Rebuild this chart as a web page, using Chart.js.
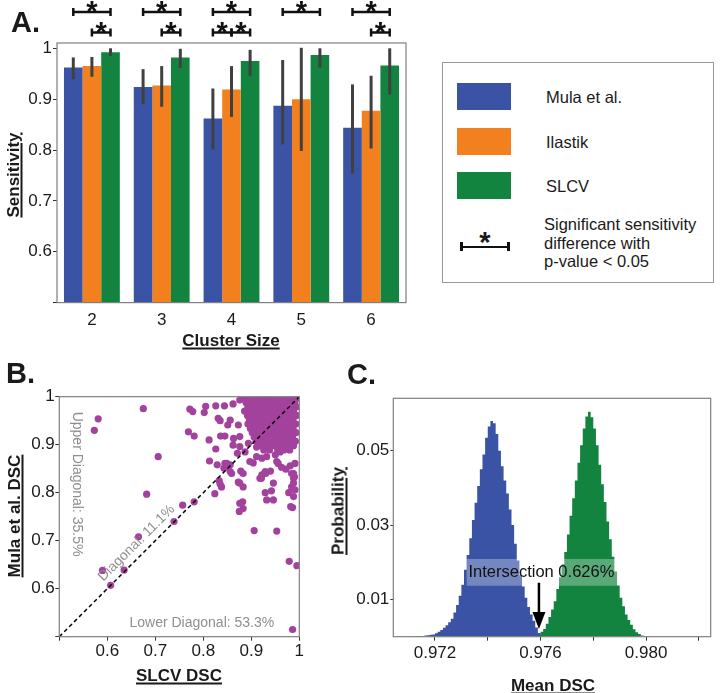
<!DOCTYPE html>
<html>
<head>
<meta charset="utf-8">
<script src="https://cdn.jsdelivr.net/npm/chart.js@4.4.1/dist/chart.umd.min.js"></script>
<style>
  body { margin: 0; background: #fff; font-family: "Liberation Sans", Arial, sans-serif; color: #1a1a1a; }
  #page { position: relative; width: 720px; height: 693px; overflow: hidden; }
  canvas { position: absolute; }
  .lbl { position: absolute; white-space: nowrap; line-height: 1; }
  .title { font-weight: bold; font-size: 17px; text-decoration: underline; text-decoration-thickness: 1.5px;
           text-underline-offset: 2px; transform: translate(-50%, -50%); }
  .rot { transform: translate(-50%, -50%) rotate(-90deg); }
  .panel { font-weight: bold; font-size: 29px; }
  .legtxt { font-size: 16.5px; }
  .swatch { position: absolute; width: 54px; height: 27px; }
</style>
</head>
<body>
<div id="page">
  <canvas id="chartA" width="420" height="360" style="left:0;top:0"></canvas>
  <canvas id="chartB" width="360" height="333" style="left:0;top:360px"></canvas>
  <canvas id="chartC" width="380" height="333" style="left:340px;top:360px"></canvas>

  <div class="lbl panel" style="left:11px;top:8px">A.</div>
  <div class="lbl panel" style="left:6px;top:359px">B.</div>
  <div class="lbl panel" style="left:347px;top:360px">C.</div>

  <div class="lbl title" style="left:231px;top:340px">Cluster Size</div>
  <div class="lbl title rot" style="left:13px;top:175px">Sensitivity</div>
  <div class="lbl title" style="left:179px;top:675px">SLCV DSC</div>
  <div class="lbl title rot" style="left:14px;top:516px">Mula et al. DSC</div>
  <div class="lbl title" style="left:553px;top:685px">Mean DSC</div>
  <div class="lbl title rot" style="left:338px;top:511px">Probability</div>

  <!-- legend of panel A -->
  <div style="position:absolute;left:442px;top:62px;width:270px;height:219px;border:1px solid #999"></div>
  <div class="swatch" style="left:457px;top:83px;background:#3a53a4"></div>
  <div class="swatch" style="left:457px;top:128px;background:#f3801f"></div>
  <div class="swatch" style="left:457px;top:172px;background:#13843f"></div>
  <div class="lbl legtxt" style="left:546px;top:89px">Mula et al.</div>
  <div class="lbl legtxt" style="left:546px;top:134px">Ilastik</div>
  <div class="lbl legtxt" style="left:546px;top:178px">SLCV</div>
  <div style="position:absolute;left:460px;top:245.5px;width:49px;height:2.5px;background:#111"></div>
  <div style="position:absolute;left:460px;top:242px;width:2.5px;height:9px;background:#111"></div>
  <div style="position:absolute;left:507px;top:242px;width:2.5px;height:9px;background:#111"></div>
  <div class="lbl" style="left:485px;top:228px;font-weight:bold;font-size:29px;transform:translateX(-50%)">*</div>
  <div class="lbl legtxt" style="left:544px;top:215px;line-height:18.5px">Significant sensitivity<br>difference with<br>p-value &lt; 0.05</div>
</div>

<script>
// ---------- panel A: sensitivity by cluster size ----------
const clusterSizes = ['2', '3', '4', '5', '6'];
const methods = ['Mula et al.', 'Ilastik', 'SLCV'];
const mulaSens = [0.962, 0.924, 0.862, 0.887, 0.844];
const ilastikSens = [0.965, 0.927, 0.919, 0.900, 0.877];
const slcvSens = [0.992, 0.982, 0.975, 0.987, 0.966];
const mulaCI = [[0.939, 0.982], [0.890, 0.959], [0.801, 0.921], [0.811, 0.977], [0.754, 0.929]];
const ilastikCI = [[0.944, 0.983], [0.885, 0.965], [0.865, 0.965], [0.798, 1.001], [0.803, 0.946]];
const slcvCI = [[0.985, 1.000], [0.961, 0.999], [0.946, 0.997], [0.962, 1.000], [0.909, 1.000]];
const sensTicks = [0.5, 0.6, 0.7, 0.8, 0.9, 1.0];
// [cluster index, method from, method to, row]
const sigPairs = [[0, 0, 2, 0], [0, 1, 2, 1], [1, 0, 2, 0], [1, 1, 2, 1], [2, 0, 2, 0],
                  [2, 0, 1, 1], [2, 1, 2, 1], [3, 0, 2, 0], [4, 0, 2, 0], [4, 1, 2, 1]];

// ---------- panel B: per-cell DSC, SLCV vs Mula et al. ----------
const dscTicks = [0.5, 0.6, 0.7, 0.8, 0.9, 1.0];
const diagonal = [[0.5, 0.5], [1, 1]];
const dscPairs = [
  [0.573, 0.930], [0.581, 0.954], [0.675, 0.975], [0.706, 0.875], [0.682, 0.797], [0.757, 0.774],
  [0.781, 0.781], [0.739, 0.740], [0.665, 0.708], [0.590, 0.638], [0.635, 0.639], [0.607, 0.607],
  [0.769, 0.927], [0.781, 0.918], [0.772, 0.974], [0.778, 0.969], [0.802, 0.967], [0.805, 0.980],
  [0.826, 0.981], [0.812, 0.910], [0.826, 0.891], [0.813, 0.866], [0.829, 0.858], [0.833, 0.825],
  [0.835, 0.818], [0.824, 0.798], [0.906, 0.721], [0.953, 0.720], [0.979, 0.657], [0.995, 0.648],
  [0.986, 0.515], [0.875, 0.761], [0.882, 0.781], [0.876, 0.820], [0.873, 0.822], [0.878, 0.845],
  [0.883, 0.840], [0.859, 0.840], [0.849, 0.861], [0.856, 0.858], [0.843, 0.851], [0.929, 0.800],
  [0.942, 0.804], [0.946, 0.820], [0.930, 0.840], [0.940, 0.845], [0.921, 0.830], [0.978, 0.800],
  [0.986, 0.769], [0.982, 0.771], [0.988, 0.820], [0.990, 0.833], [0.988, 0.840], [0.981, 0.856],
  [0.991, 0.861], [0.963, 0.853], [0.972, 0.849], [0.956, 0.861], [0.904, 0.862], [0.922, 0.872],
  [0.932, 0.875], [0.911, 0.875], [0.844, 0.981], [0.862, 0.985], [0.887, 0.995], [0.831, 0.955],
  [0.856, 0.951], [0.851, 0.941], [0.836, 0.918], [0.845, 0.918], [0.876, 0.917], [0.862, 0.899],
  [0.887, 0.885], [0.871, 0.882], [0.894, 0.903], [0.911, 0.895], [0.876, 0.993], [0.835, 0.950],
  [0.873, 0.941], [0.863, 0.913], [0.876, 0.896], [0.845, 0.861], [0.852, 0.854], [0.856, 0.844],
  [0.897, 0.865], [0.918, 0.830], [0.922, 0.837], [0.929, 0.844], [0.883, 0.812], [0.838, 0.812],
  [0.953, 0.865], [0.950, 0.879], [0.960, 0.885], [0.984, 0.840], [0.988, 0.830], [0.984, 0.812],
  [0.991, 0.806], [0.988, 0.792], [0.946, 0.785], [0.932, 0.785], [0.876, 0.778], [0.883, 0.767],
  // dense cluster near (1, 1)
  [0.893, 0.996], [0.905, 0.996], [0.915, 0.996], [0.925, 0.996], [0.935, 0.996], [0.945, 0.996],
  [0.955, 0.996], [0.965, 0.996], [0.975, 0.996], [0.985, 0.996], [0.994, 0.996],
  [0.889, 0.988], [0.899, 0.988], [0.910, 0.988], [0.920, 0.988], [0.930, 0.988], [0.940, 0.988],
  [0.950, 0.988], [0.960, 0.988], [0.970, 0.988], [0.980, 0.988], [0.990, 0.988],
  [0.893, 0.979], [0.904, 0.979], [0.914, 0.979], [0.925, 0.979], [0.935, 0.979], [0.945, 0.979],
  [0.955, 0.979], [0.965, 0.979], [0.975, 0.979], [0.985, 0.979], [0.995, 0.979],
  [0.886, 0.970], [0.897, 0.970], [0.908, 0.970], [0.918, 0.970], [0.928, 0.970], [0.938, 0.970],
  [0.948, 0.970], [0.958, 0.970], [0.968, 0.970], [0.978, 0.970], [0.988, 0.970],
  [0.892, 0.961], [0.902, 0.961], [0.913, 0.961], [0.923, 0.961], [0.933, 0.961], [0.943, 0.961],
  [0.953, 0.961], [0.963, 0.961], [0.973, 0.961], [0.983, 0.961], [0.994, 0.961],
  [0.896, 0.952], [0.907, 0.952], [0.917, 0.952], [0.927, 0.952], [0.937, 0.952], [0.947, 0.952],
  [0.957, 0.952], [0.967, 0.952], [0.977, 0.952], [0.987, 0.952],
  [0.893, 0.943], [0.902, 0.943], [0.912, 0.943], [0.922, 0.943], [0.932, 0.943], [0.942, 0.943],
  [0.952, 0.943], [0.962, 0.943], [0.972, 0.943], [0.982, 0.943], [0.993, 0.943],
  [0.898, 0.934], [0.907, 0.934], [0.917, 0.934], [0.927, 0.934], [0.937, 0.934], [0.947, 0.934],
  [0.957, 0.934], [0.967, 0.934], [0.977, 0.934], [0.987, 0.934],
  [0.902, 0.925], [0.912, 0.925], [0.922, 0.925], [0.932, 0.925], [0.942, 0.925], [0.952, 0.925],
  [0.962, 0.925], [0.972, 0.925], [0.982, 0.925], [0.993, 0.925],
  [0.906, 0.916], [0.916, 0.916], [0.926, 0.916], [0.936, 0.916], [0.946, 0.916], [0.956, 0.916],
  [0.966, 0.916], [0.976, 0.916], [0.986, 0.916],
  [0.910, 0.907], [0.921, 0.907], [0.931, 0.907], [0.941, 0.907], [0.951, 0.907], [0.961, 0.907],
  [0.971, 0.907], [0.981, 0.907], [0.992, 0.907],
  [0.917, 0.898], [0.927, 0.898], [0.937, 0.898], [0.948, 0.898], [0.958, 0.898], [0.968, 0.898],
  [0.978, 0.898], [0.988, 0.898],
  [0.926, 0.889], [0.938, 0.889], [0.955, 0.889], [0.968, 0.889], [0.980, 0.889]
];
const diagNotes = [
  { text: 'Upper Diagonal: 35.5%', x: 0.537, y: 0.818, angle: 90 },
  { text: 'Diagonal: 11.1%', x: 0.661, y: 0.695, angle: -45 },
  { text: 'Lower Diagonal: 53.3%', x: 0.797, y: 0.5285, angle: 0 }
];

// ---------- panel C: bootstrap distribution of mean DSC ----------
const meanDscBins = [
  0.97105, 0.97115, 0.97125, 0.97135, 0.97145, 0.97155, 0.97165, 0.97175, 0.97185, 0.97195,
  0.97205, 0.97215, 0.97225, 0.97235, 0.97245, 0.97255, 0.97265, 0.97275, 0.97285, 0.97295,
  0.97305, 0.97315, 0.97325, 0.97335, 0.97345, 0.97355, 0.97365, 0.97375, 0.97385, 0.97395,
  0.97405, 0.97415, 0.97425, 0.97435, 0.97445, 0.97455, 0.97465, 0.97475, 0.97485, 0.97495,
  0.97505, 0.97515, 0.97525, 0.97535, 0.97545, 0.97555, 0.97565, 0.97575, 0.97585, 0.97595,
  0.97605, 0.97615, 0.97625, 0.97635, 0.97645, 0.97655, 0.97665, 0.97675, 0.97685, 0.97695,
  0.97705, 0.97715, 0.97725, 0.97735, 0.97745, 0.97755, 0.97765, 0.97775, 0.97785, 0.97795,
  0.97805, 0.97815, 0.97825, 0.97835, 0.97845, 0.97855, 0.97865, 0.97875, 0.97885, 0.97895,
  0.97905, 0.97915, 0.97925, 0.97935, 0.97945, 0.97955, 0.97965, 0.97975, 0.97985, 0.97995
];
const mulaMeanHist = [
  0, 0.0001, 0.0001, 0.0001, 0.0002, 0.0002, 0.0003, 0.0004, 0.0005, 0.0006,
  0.0009, 0.0013, 0.0018, 0.0024, 0.0031, 0.0039, 0.0048, 0.0065, 0.0085, 0.0110,
  0.0140, 0.0180, 0.0220, 0.0265, 0.0314, 0.0360, 0.0405, 0.0450, 0.0490, 0.0535,
  0.0565, 0.0580, 0.0574, 0.0545, 0.0500, 0.0458, 0.0420, 0.0385, 0.0342, 0.0300,
  0.0250, 0.0205, 0.0165, 0.0135, 0.0105, 0.0080, 0.0060, 0.0043, 0.0025, 0.0010,
  0.0002, 0, 0, 0, 0, 0, 0, 0, 0, 0,
  0, 0, 0, 0, 0, 0, 0, 0, 0, 0,
  0, 0, 0, 0, 0, 0, 0, 0, 0, 0,
  0, 0, 0, 0, 0, 0, 0, 0, 0, 0
];
const slcvMeanHist = [
  0, 0, 0, 0, 0, 0, 0, 0, 0, 0,
  0, 0, 0, 0, 0, 0, 0, 0, 0, 0,
  0, 0, 0, 0, 0, 0, 0, 0, 0, 0,
  0, 0, 0, 0, 0, 0, 0, 0, 0, 0,
  0, 0, 0, 0, 0, 0, 0, 0, 0.0001, 0.0005,
  0.0013, 0.0021, 0.0035, 0.0053, 0.0073, 0.0095, 0.0128, 0.0160, 0.0195, 0.0228,
  0.0275, 0.0325, 0.0372, 0.0420, 0.0468, 0.0515, 0.0560, 0.0592, 0.0605, 0.0590,
  0.0560, 0.0515, 0.0462, 0.0410, 0.0362, 0.0310, 0.0262, 0.0215, 0.0175, 0.0138,
  0.0105, 0.0082, 0.0060, 0.0045, 0.0032, 0.0020, 0.0012, 0.0007, 0.0003, 0.0001
];
const meanDscTicks = [0.972, 0.974, 0.976, 0.978, 0.980, 0.982];
const meanDscLabels = ['0.972', '', '0.976', '', '0.980', ''];
const probTicks = [0.01, 0.03, 0.05];

const BLUE = '#3a53a4', ORANGE = '#f3801f', GREEN = '#13843f', PURPLE = '#a3429d';
const FONT = '"Liberation Sans", Arial, sans-serif';

Chart.defaults.font.family = FONT;
Chart.defaults.font.size = 17;
Chart.defaults.color = '#1a1a1a';
Chart.defaults.animation = false;
Chart.defaults.plugins.legend.display = false;
Chart.defaults.plugins.tooltip.enabled = false;

const frame = {
  id: 'frame',
  afterDraw(chart) {
    const a = chart.chartArea, ctx = chart.ctx;
    ctx.save();
    ctx.strokeStyle = '#7f7f7f';
    ctx.lineWidth = 1.2;
    ctx.strokeRect(a.left, a.top, a.right - a.left, a.bottom - a.top);
    ctx.restore();
  }
};

function fixedTicks(values) {
  return scale => { scale.ticks = values.map(v => ({ value: v })); };
}

const tickGrid = { display: true, drawOnChartArea: false, drawTicks: true, tickLength: 4, color: '#333' };

// error bars and significance brackets
const sensExtras = {
  id: 'sensExtras',
  afterDatasetsDraw(chart) {
    const ctx = chart.ctx, y = chart.scales.y;
    ctx.save();
    ctx.strokeStyle = '#404040';
    ctx.lineWidth = 3;
    chart.data.datasets.forEach((ds, i) => {
      chart.getDatasetMeta(i).data.forEach((bar, j) => {
        const [lo, hi] = ds.ci[j];
        ctx.beginPath();
        ctx.moveTo(bar.x, y.getPixelForValue(lo));
        ctx.lineTo(bar.x, y.getPixelForValue(hi));
        ctx.stroke();
      });
    });
    ctx.restore();
  },
  afterDraw(chart) {
    const ctx = chart.ctx, top = chart.chartArea.top;
    const rowY = [top - 31, top - 10.5];
    ctx.save();
    ctx.strokeStyle = '#111';
    ctx.fillStyle = '#111';
    ctx.lineWidth = 2.5;
    ctx.font = 'bold 29px ' + FONT;
    ctx.textAlign = 'center';
    sigPairs.forEach(([g, s1, s2, row]) => {
      const x1 = chart.getDatasetMeta(s1).data[g].x;
      const x2 = chart.getDatasetMeta(s2).data[g].x;
      const yy = rowY[row];
      ctx.beginPath();
      ctx.moveTo(x1, yy); ctx.lineTo(x2, yy);
      ctx.moveTo(x1, yy - 4); ctx.lineTo(x1, yy + 4);
      ctx.moveTo(x2, yy - 4); ctx.lineTo(x2, yy + 4);
      ctx.stroke();
      ctx.fillText('*', (x1 + x2) / 2, yy + 9);
    });
    ctx.restore();
  }
};

new Chart(document.getElementById('chartA'), {
  type: 'bar',
  data: {
    labels: clusterSizes,
    datasets: [
      { label: methods[0], data: mulaSens, ci: mulaCI, backgroundColor: BLUE },
      { label: methods[1], data: ilastikSens, ci: ilastikCI, backgroundColor: ORANGE },
      { label: methods[2], data: slcvSens, ci: slcvCI, backgroundColor: GREEN }
    ]
  },
  options: {
    responsive: false,
    categoryPercentage: 0.8,
    barPercentage: 1.0,
    layout: { padding: { left: 0, top: 43, right: 14, bottom: 17.4 } },
    scales: {
      x: {
        grid: { display: false, drawTicks: false, tickLength: 0 },
        border: { display: false },
        ticks: { padding: 8 },
        afterFit: s => { s.height = 40; }
      },
      y: {
        min: 0.5, max: 1.0104,
        afterBuildTicks: fixedTicks(sensTicks),
        grid: tickGrid,
        border: { display: false },
        ticks: { padding: 1, callback: v => v <= 0.5 ? '' : String(Math.round(v * 10) / 10) },
        afterFit: s => { s.width = 57; }
      }
    }
  },
  plugins: [sensExtras, frame]
});

const dscNotes = {
  id: 'dscNotes',
  afterDatasetsDraw(chart) {
    const { ctx, scales: { x, y } } = chart;
    ctx.save();
    ctx.fillStyle = '#8f8f8f';
    ctx.font = '14px ' + FONT;
    ctx.textAlign = 'center';
    ctx.textBaseline = 'middle';
    diagNotes.forEach(n => {
      ctx.save();
      ctx.translate(x.getPixelForValue(n.x), y.getPixelForValue(n.y));
      ctx.rotate(n.angle * Math.PI / 180);
      ctx.fillText(n.text, 0, 0);
      ctx.restore();
    });
    ctx.restore();
  }
};

const dscTickLabel = v => v <= 0.5 ? '' : String(Math.round(v * 10) / 10);

new Chart(document.getElementById('chartB'), {
  type: 'scatter',
  data: {
    datasets: [
      {
        type: 'line', order: 0,
        data: diagonal.map(([x, y]) => ({ x, y })),
        borderColor: '#000', borderWidth: 1.5, borderDash: [4, 3],
        pointRadius: 0, fill: false
      },
      {
        order: 1,
        data: dscPairs.map(([x, y]) => ({ x, y })),
        backgroundColor: PURPLE, borderWidth: 0,
        pointRadius: 3.6, pointHoverRadius: 3.6
      }
    ]
  },
  options: {
    responsive: false,
    layout: { padding: { left: 0, top: 36.7, right: 60.7, bottom: 16.3 } },
    scales: {
      x: {
        type: 'linear', min: 0.5, max: 1,
        afterBuildTicks: fixedTicks(dscTicks),
        grid: tickGrid, border: { display: false },
        ticks: { padding: 0, callback: dscTickLabel },
        afterFit: s => { s.height = 40; }
      },
      y: {
        type: 'linear', min: 0.5, max: 1,
        afterBuildTicks: fixedTicks(dscTicks),
        grid: tickGrid, border: { display: false },
        ticks: { padding: 0.5, callback: dscTickLabel },
        afterFit: s => { s.width = 59.3; }
      }
    }
  },
  plugins: [dscNotes, frame]
});

const intersectNote = {
  id: 'intersectNote',
  afterDatasetsDraw(chart) {
    const { ctx, scales: { x, y } } = chart;
    ctx.save();
    // translucent label box
    const bx1 = x.getPixelForValue(0.9732), bx2 = x.getPixelForValue(0.9789);
    const by1 = y.getPixelForValue(0.0209), by2 = y.getPixelForValue(0.0137);
    ctx.fillStyle = 'rgba(255,255,255,0.3)';
    ctx.fillRect(bx1, by1, bx2 - bx1, by2 - by1);
    ctx.fillStyle = '#111';
    ctx.font = '16.5px ' + FONT;
    ctx.textBaseline = 'middle';
    ctx.fillText('Intersection 0.626%', x.getPixelForValue(0.97327), y.getPixelForValue(0.0172));
    // arrow
    const ax = x.getPixelForValue(0.97594);
    const ay1 = y.getPixelForValue(0.0145), ay2 = y.getPixelForValue(0.0021);
    ctx.strokeStyle = '#000';
    ctx.lineWidth = 2.5;
    ctx.beginPath();
    ctx.moveTo(ax, ay1); ctx.lineTo(ax, ay2 - 14);
    ctx.stroke();
    ctx.fillStyle = '#000';
    ctx.beginPath();
    ctx.moveTo(ax - 6.5, ay2 - 17); ctx.lineTo(ax + 6.5, ay2 - 17); ctx.lineTo(ax, ay2);
    ctx.closePath();
    ctx.fill();
    ctx.restore();
  }
};

new Chart(document.getElementById('chartC'), {
  type: 'line',
  data: {
    datasets: [
      {
        data: meanDscBins.map((b, i) => ({ x: b, y: mulaMeanHist[i] })),
        stepped: 'middle', fill: 'origin',
        backgroundColor: BLUE, borderColor: 'transparent', borderWidth: 0, pointRadius: 0
      },
      {
        data: meanDscBins.map((b, i) => ({ x: b, y: slcvMeanHist[i] })),
        stepped: 'middle', fill: 'origin',
        backgroundColor: GREEN, borderColor: 'transparent', borderWidth: 0, pointRadius: 0
      }
    ]
  },
  options: {
    responsive: false,
    layout: { padding: { left: 0, top: 38.3, right: 9.3, bottom: 16.3 } },
    scales: {
      x: {
        type: 'linear', min: 0.97042, max: 0.98245,
        afterBuildTicks: fixedTicks(meanDscTicks),
        grid: tickGrid, border: { display: false },
        ticks: { padding: 2, callback: (v, i) => meanDscLabels[i] },
        afterFit: s => { s.height = 40; }
      },
      y: {
        min: 0, max: 0.0641,
        afterBuildTicks: fixedTicks(probTicks),
        grid: Object.assign({}, tickGrid, { tickLength: 3 }), border: { display: false },
        ticks: { padding: 1, callback: v => v.toFixed(2) },
        afterFit: s => { s.width = 53.3; }
      }
    }
  },
  plugins: [intersectNote, frame]
});
</script>
</body>
</html>
